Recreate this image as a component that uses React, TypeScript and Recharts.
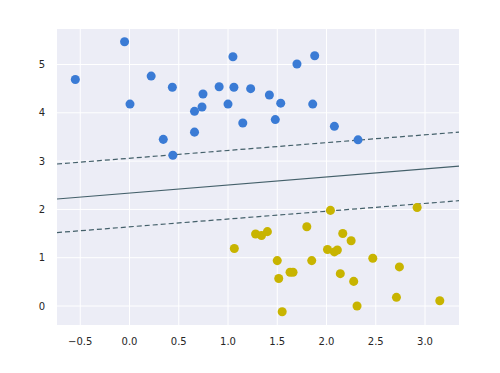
import React from "react";
import {
  ScatterChart,
  Scatter,
  XAxis,
  YAxis,
  ZAxis,
  CartesianGrid,
  ReferenceLine,
} from "recharts";

const blueX = [-0.55, -0.05, 0.22, 0.005, 0.435, 0.746, 0.66, 0.736, 0.66, 0.343, 0.44, 1.05, 0.91, 1.06, 1.23, 1.0, 1.15, 1.42, 1.535, 1.48, 1.7, 1.88, 1.86, 2.08, 2.32];
const blueY = [4.69, 5.47, 4.76, 4.18, 4.53, 4.39, 4.03, 4.12, 3.6, 3.45, 3.12, 5.16, 4.54, 4.53, 4.5, 4.18, 3.79, 4.37, 4.2, 3.86, 5.01, 5.18, 4.18, 3.72, 3.44];

const yellowX = [2.04, 1.28, 1.34, 1.4, 1.064, 1.8, 2.165, 2.01, 2.08, 2.11, 1.5, 1.85, 1.515, 1.63, 1.66, 1.55, 2.14, 2.25, 2.47, 2.74, 2.276, 2.31, 2.71, 3.15, 2.92];
const yellowY = [1.98, 1.49, 1.46, 1.54, 1.19, 1.64, 1.5, 1.17, 1.12, 1.16, 0.94, 0.94, 0.57, 0.7, 0.7, -0.12, 0.67, 1.35, 0.99, 0.81, 0.51, 0.0, 0.18, 0.11, 2.04];

const xTicks = [-0.5, 0, 0.5, 1.0, 1.5, 2.0, 2.5, 3.0];
const yTicks = [0, 1, 2, 3, 4, 5];
const xDomain = [-0.736, 3.345];
const yDomain = [-0.393, 5.735];

// boundary lines: [y at left edge, y at right edge]
const midLine = [2.215, 2.895];
const upperLine = [2.94, 3.6];
const lowerLine = [1.52, 2.18];

const blue = blueX.map((x, i) => ({ x, y: blueY[i] }));
const yellow = yellowX.map((x, i) => ({ x, y: yellowY[i] }));

const fmtX = (v: number) => {
  const s = Math.abs(v).toFixed(1);
  return v < 0 ? "\u2212" + s : s;
};

const tickStyle = { fontFamily: "DejaVu Sans", fontSize: 10, fill: "#262626" };
const lineColor = "#44606a";

export default function App() {
  const seg = (ys: number[]) => [
    { x: xDomain[0], y: ys[0] },
    { x: xDomain[1], y: ys[1] },
  ];
  return (
    <div style={{ position: "absolute", left: 0, top: 0, background: "#fff" }}>
      <ScatterChart
        width={500}
        height={373}
        margin={{ top: 29, right: 41, bottom: 18, left: 0 }}
      >
        <CartesianGrid
          fill="#ecedf6"
          stroke="#ffffff"
          strokeWidth={1}
          horizontalValues={yTicks}
          verticalValues={xTicks}
        />
        <XAxis
          type="number"
          dataKey="x"
          domain={xDomain}
          ticks={xTicks}
          tickFormatter={fmtX}
          allowDataOverflow
          axisLine={false}
          tickLine={false}
          tickSize={0}
          tickMargin={13}
          height={30}
          tick={tickStyle}
        />
        <YAxis
          type="number"
          dataKey="y"
          domain={yDomain}
          ticks={yTicks}
          tickFormatter={(v: number) => String(v)}
          allowDataOverflow
          axisLine={false}
          tickLine={false}
          tickSize={0}
          tickMargin={12}
          width={57}
          tick={tickStyle}
        />
        <ZAxis range={[85, 85]} />
        <ReferenceLine segment={seg(upperLine)} stroke={lineColor} strokeWidth={1.2} strokeDasharray="5 3" />
        <ReferenceLine segment={seg(midLine)} stroke={lineColor} strokeWidth={1.2} />
        <ReferenceLine segment={seg(lowerLine)} stroke={lineColor} strokeWidth={1.2} strokeDasharray="5 3" />
        <Scatter data={blue} fill="#3a7bd5" isAnimationActive={false} />
        <Scatter data={yellow} fill="#c8b400" isAnimationActive={false} />
      </ScatterChart>
    </div>
  );
}
